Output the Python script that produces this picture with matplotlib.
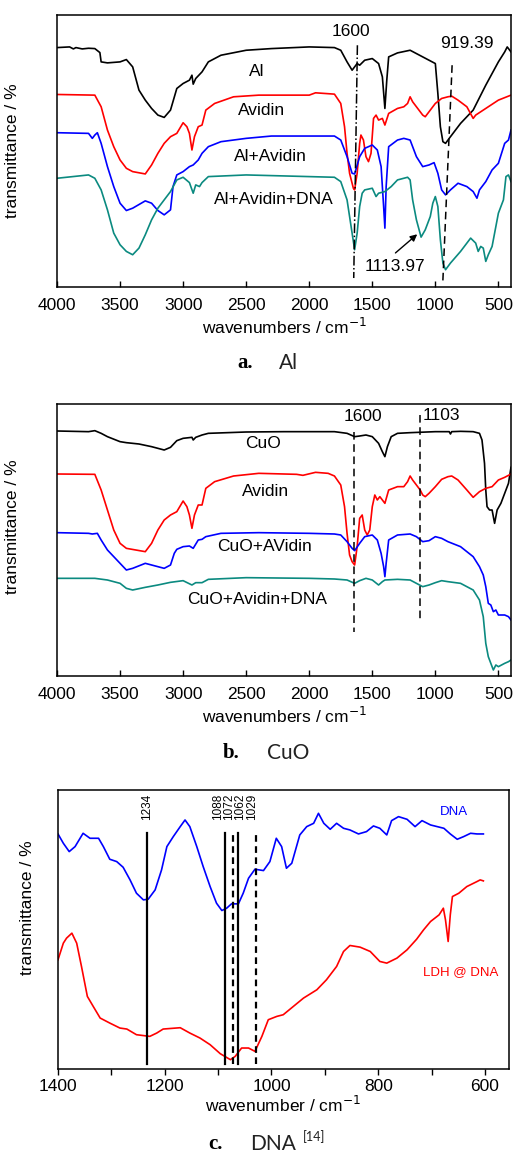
import matplotlib
matplotlib.use("Agg")
import matplotlib.pyplot as plt
import numpy as np

plt.rcParams["font.family"] = ["Liberation Sans", "DejaVu Sans"]
plt.rcParams["font.size"] = 12.5

W, H = 514, 1155
TEAL = "#0b8a80"

# ---------------- panel a: Al (wavenumber, arbitrary transmittance units) ----------------
a_al_wn = [4000, 3900, 3870, 3850, 3800, 3750, 3700, 3660, 3650, 3600, 3500, 3450, 3400, 3350, 3300,
           3250, 3200, 3150, 3100, 3050, 3000, 2950, 2930, 2920, 2900, 2850, 2800, 2700, 2500, 2300,
           2000, 1800, 1750, 1700, 1660, 1640, 1620, 1600, 1560, 1500, 1450, 1420, 1400, 1385, 1370,
           1300, 1200, 1100, 1050, 1000, 980, 960, 940, 919, 880, 800, 700, 600, 500, 450, 430, 400]
a_al_v = [720, 722, 716, 720, 716, 718, 717, 705, 677, 674, 677, 684, 662, 592, 562,
          537, 517, 510, 532, 597, 612, 622, 637, 610, 627, 647, 677, 697, 712, 717,
          722, 720, 712, 677, 652, 662, 672, 667, 682, 687, 672, 632, 537, 622, 692,
          704, 712, 692, 682, 672, 582, 482, 437, 432, 452, 492, 532, 607, 677, 707, 722, 707]

a_av_wn = [4000, 3700, 3650, 3600, 3550, 3500, 3450, 3400, 3300, 3250, 3200, 3150, 3100, 3050, 3000,
           2970, 2950, 2930, 2910, 2880, 2850, 2820, 2750, 2600, 2400, 2200, 2000, 1950, 1800, 1750,
           1720, 1700, 1680, 1650, 1640, 1620, 1600, 1590, 1570, 1550, 1530, 1510, 1490, 1470, 1450,
           1420, 1400, 1370, 1300, 1250, 1220, 1200, 1180, 1150, 1100, 1080, 1050, 1000, 950, 900,
           870, 820, 750, 700, 680, 600, 500, 400]
a_av_v = [579, 577, 542, 472, 422, 382, 357, 347, 340, 367, 402, 432, 452, 462, 494,
          482, 462, 412, 452, 482, 487, 532, 552, 572, 577, 577, 577, 584, 580, 552,
          482, 402, 342, 297, 292, 342, 432, 457, 442, 392, 377, 402, 507, 517, 502,
          507, 487, 522, 537, 542, 552, 572, 557, 542, 517, 512, 527, 552, 567, 572,
          574, 562, 542, 507, 517, 537, 562, 577]

a_alav_wn = [4000, 3750, 3720, 3700, 3680, 3650, 3600, 3550, 3500, 3450, 3400, 3300, 3250, 3200, 3150,
             3100, 3080, 3050, 3000, 2950, 2920, 2880, 2850, 2800, 2700, 2500, 2300, 2000, 1800, 1750,
             1700, 1660, 1640, 1600, 1560, 1500, 1460, 1430, 1410, 1400, 1390, 1370, 1300, 1250, 1200,
             1150, 1100, 1050, 1010, 980, 950, 919, 880, 820, 750, 700, 670, 650, 600, 550, 500,
             450, 420, 400]
a_alav_v = [464, 462, 447, 457, 464, 432, 362, 302, 252, 230, 237, 259, 252, 230, 217,
            232, 302, 337, 347, 362, 367, 382, 402, 422, 437, 447, 454, 454, 454, 442,
            392, 342, 340, 392, 417, 427, 412, 362, 242, 177, 302, 422, 442, 447, 442,
            392, 362, 367, 374, 342, 292, 277, 292, 312, 302, 287, 267, 292, 317, 352, 372,
            432, 442, 472]

a_dna_wn = [4000, 3750, 3700, 3650, 3600, 3550, 3500, 3450, 3400, 3350, 3300, 3250, 3200, 3100, 3050,
            3000, 2950, 2920, 2900, 2870, 2850, 2800, 2500, 2300, 2000, 1800, 1750, 1700, 1660, 1640,
            1620, 1600, 1580, 1560, 1500, 1470, 1450, 1400, 1350, 1300, 1250, 1220, 1200, 1180, 1150,
            1113, 1080, 1040, 1020, 1000, 980, 960, 940, 919, 880, 800, 720, 680, 660, 640, 620,
            600, 580, 550, 500, 460, 440, 420, 400]
a_dna_v = [327, 337, 327, 292, 232, 162, 127, 107, 97, 117, 157, 202, 237, 287, 322,
           330, 314, 282, 307, 302, 314, 332, 337, 335, 332, 330, 317, 262, 162, 112,
           162, 242, 282, 292, 297, 272, 282, 287, 302, 322, 327, 330, 322, 262, 202,
           150, 172, 212, 252, 272, 242, 142, 72, 52, 72, 107, 147, 132, 107, 122, 117,
           77, 97, 122, 222, 262, 332, 337, 317]

a_names = ["Al", "Avidin", "Al+Avidin", "Al+Avidin+DNA"]

# ---------------- panel b: CuO ----------------
b_cuo_wn = [4000, 3750, 3700, 3650, 3600, 3500, 3450, 3350, 3250, 3150, 3100, 3050, 3000, 2930, 2920,
            2900, 2850, 2800, 2500, 2200, 2000, 1800, 1700, 1640, 1600, 1550, 1500, 1450, 1420, 1400,
            1380, 1350, 1300, 1200, 1000, 890, 880, 870, 800, 700, 650, 630, 610, 600, 590, 570,
            550, 530, 510, 480, 450, 420, 400]
b_cuo_v = [735, 733, 736, 728, 718, 703, 700, 696, 688, 678, 686, 706, 713, 716, 708,
           716, 723, 728, 732, 733, 733, 733, 728, 718, 720, 723, 718, 698, 673, 658,
           688, 718, 728, 730, 733, 733, 726, 733, 734, 733, 728, 708, 638, 558, 508, 498,
           498, 458, 498, 518, 548, 578, 626]

b_av_wn = [4000, 3700, 3650, 3600, 3550, 3500, 3450, 3300, 3250, 3200, 3150, 3100, 3050, 3000, 2970,
           2950, 2930, 2910, 2880, 2850, 2820, 2750, 2600, 2400, 2100, 2050, 1950, 1850, 1800, 1750,
           1720, 1700, 1680, 1660, 1640, 1620, 1600, 1580, 1560, 1540, 1520, 1500, 1480, 1460, 1440,
           1400, 1370, 1300, 1250, 1220, 1200, 1180, 1150, 1120, 1100, 1080, 1050, 1000, 950, 900,
           870, 820, 750, 700, 650, 600, 550, 500, 450, 400]
b_av_v = [606, 605, 558, 498, 438, 398, 383, 373, 398, 438, 468, 483, 493, 525, 508,
          483, 443, 483, 513, 513, 563, 583, 600, 608, 605, 602, 611, 608, 600, 573,
          508, 428, 363, 343, 333, 388, 473, 483, 438, 423, 438, 508, 543, 528, 538,
          518, 558, 568, 568, 583, 600, 588, 573, 558, 543, 538, 548, 568, 590, 598,
          600, 588, 558, 536, 553, 563, 568, 588, 596, 606]

b_cuoav_wn = [4000, 3750, 3720, 3680, 3650, 3600, 3550, 3500, 3450, 3400, 3300, 3250, 3200, 3150, 3100,
              3070, 3050, 3000, 2950, 2920, 2880, 2850, 2820, 2700, 2400, 2000, 1800, 1750, 1700, 1660,
              1640, 1600, 1560, 1500, 1460, 1430, 1410, 1400, 1390, 1370, 1300, 1200, 1150, 1100, 1050,
              1000, 950, 900, 800, 700, 650, 620, 600, 580, 560, 540, 520, 500, 450, 420, 400]
b_cuoav_v = [430, 428, 426, 428, 408, 378, 358, 338, 318, 323, 338, 333, 328, 323, 333,
             368, 380, 388, 390, 383, 408, 410, 418, 428, 430, 428, 426, 423, 403, 383,
             376, 398, 418, 423, 408, 368, 328, 298, 338, 408, 423, 426, 418, 403, 406,
             418, 413, 403, 388, 358, 328, 303, 268, 218, 213, 193, 198, 183, 183, 178, 168]

b_dna_wn = [4000, 3700, 3600, 3500, 3450, 3400, 3300, 3200, 3100, 3000, 2930, 2900, 2850, 2800, 2500,
            2000, 1800, 1700, 1640, 1600, 1550, 1500, 1450, 1420, 1400, 1300, 1200, 1150, 1100, 1050,
            1000, 950, 900, 800, 700, 650, 620, 600, 580, 560, 540, 520, 500, 450, 420, 400]
b_dna_v = [293, 293, 288, 278, 263, 258, 266, 273, 281, 286, 273, 280, 280, 290, 295,
           293, 291, 288, 278, 286, 293, 288, 273, 283, 288, 290, 288, 278, 268, 273,
           280, 286, 283, 278, 258, 228, 178, 98, 58, 38, 18, 33, 28, 38, 43, 48]

b_names = ["CuO", "Avidin", "CuO+AVidin", "CuO+Avidin+DNA"]

# ---------------- panel c: DNA ----------------
c_dna_wn = [1400, 1390, 1379, 1368, 1353, 1340, 1324, 1315, 1303, 1290, 1278, 1265, 1253, 1240, 1231,
            1218, 1206, 1196, 1184, 1171, 1162, 1153, 1140, 1128, 1115, 1103, 1093, 1084, 1075, 1062,
            1053, 1043, 1031, 1015, 1003, 991, 981, 972, 962, 947, 934, 921, 912, 902, 890,
            878, 865, 853, 837, 822, 809, 797, 784, 775, 762, 746, 731, 718, 702, 677,
            665, 652, 640, 627, 615, 603]
c_dna_v = [706, 678, 653, 668, 708, 693, 693, 668, 630, 623, 606, 568, 528, 508, 510,
           538, 598, 668, 698, 728, 748, 728, 668, 608, 548, 498, 476, 483, 496, 496,
           528, 573, 600, 596, 623, 693, 668, 603, 618, 703, 728, 738, 768, 738, 720,
           738, 723, 718, 706, 713, 730, 723, 703, 746, 758, 750, 728, 746, 733, 723,
           706, 690, 698, 708, 706, 706]

c_ldh_wn = [1400, 1390, 1384, 1374, 1365, 1356, 1345, 1334, 1321, 1303, 1284, 1271, 1253, 1228, 1215,
            1203, 1171, 1153, 1134, 1115, 1096, 1077, 1068, 1056, 1043, 1031, 1018, 1006, 990, 978,
            959, 940, 915, 897, 878, 865, 853, 834, 815, 797, 784, 765, 746, 728, 715,
            702, 686, 678, 674, 669, 665, 661, 649, 634, 615, 609, 603]
c_ldh_v = [328, 378, 393, 408, 378, 308, 218, 188, 153, 138, 123, 120, 103, 98, 108,
           120, 124, 108, 93, 73, 46, 28, 38, 63, 63, 53, 98, 148, 158, 163,
           188, 213, 238, 268, 308, 353, 371, 366, 353, 323, 318, 333, 358, 390, 418,
           443, 463, 483, 448, 383, 463, 518, 528, 548, 563, 568, 565]

c_peaks = [1234, 1088, 1072, 1062, 1029]
c_peak_styles = ["-", "-", "--", "-", "--"]
c_peak_label_x = [1234, 1101, 1080, 1058, 1037]


def px_axes(fig, left, top, right, bottom):
    return fig.add_axes([left / W, 1 - bottom / H, (right - left) / W, (bottom - top) / H])


def style_ftir(ax, ylim):
    ax.set_xlim(4000, 400)
    ax.set_ylim(0, ylim)
    ax.set_xticks([4000, 3500, 3000, 2500, 2000, 1500, 1000, 500])
    ax.set_yticks([])
    ax.tick_params(axis="x", direction="in", length=4, width=1, pad=8, labelsize=12.5)
    for s in ax.spines.values():
        s.set_linewidth(1.1)
    ax.set_xlabel("wavenumbers / cm$^{-1}$", labelpad=3)
    ax.set_ylabel("transmittance / %")


fig = plt.figure(figsize=(W / 100, H / 100), dpi=100)

# panel a
ax = px_axes(fig, 57, 15, 511, 287)
for wn, v, c in zip([a_al_wn, a_av_wn, a_alav_wn, a_dna_wn], [a_al_v, a_av_v, a_alav_v, a_dna_v],
                    ["black", "red", "blue", TEAL]):
    ax.plot(wn, v, color=c, lw=1.2)
style_ftir(ax, 818)
ax.yaxis.set_label_coords(-0.081, 0.5)
ax.plot([1618, 1647], [727, 27], color="black", lw=1.1, ls="-.")
ax.plot([867, 941], [667, 12], color="black", lw=1.1, ls=(0, (5, 3)))
ax.annotate("", xy=(1127, 164), xytext=(1333, 97),
            arrowprops=dict(arrowstyle="-|>", color="black", lw=1.0, mutation_scale=10))
ax.text(1671, 767, "1600", ha="center", va="center")
ax.text(751, 732, "919.39", ha="center", va="center")
ax.text(1320, 62, "1113.97", ha="center", va="center")
for name, x, y in zip(a_names, [2417, 2377, 2305, 2279], [647, 530, 392, 264]):
    ax.text(x, y, name, ha="center", va="center")

# panel b
ax = px_axes(fig, 57, 404, 511, 676)
for wn, v, c in zip([b_cuo_wn, b_av_wn, b_cuoav_wn, b_dna_wn], [b_cuo_v, b_av_v, b_cuoav_v, b_dna_v],
                    ["black", "red", "blue", TEAL]):
    ax.plot(wn, v, color=c, lw=1.2)
style_ftir(ax, 816)
ax.yaxis.set_label_coords(-0.081, 0.55)
ax.plot([1642, 1642], [733, 133], color="black", lw=1.1, ls=(0, (5, 3)))
ax.plot([1121, 1121], [783, 168], color="black", lw=1.1, ls=(0, (5, 3)))
ax.text(1571, 778, "1600", ha="center", va="center")
ax.text(949, 780, "1103", ha="center", va="center")
for name, x, y in zip(b_names, [2364, 2350, 2356, 2417], [698, 553, 388, 230]):
    ax.text(x, y, name, ha="center", va="center")

# panel c
ax = px_axes(fig, 58, 790, 509, 1069)
ax.plot(c_dna_wn, c_dna_v, color="blue", lw=1.2)
ax.plot(c_ldh_wn, c_ldh_v, color="red", lw=1.2)
for p, ls, lx in zip(c_peaks, c_peak_styles, c_peak_label_x):
    ax.plot([p, p], [16, 708], color="black", lw=1.6, ls=ls if ls == "-" else (0, (3, 2)))
    ax.text(lx, 747, str(p), rotation=90, ha="center", va="bottom", fontsize=8.5)
ax.text(659, 771, "DNA", color="blue", ha="center", va="center", fontsize=9.5)
ax.text(645, 291, "LDH @ DNA", color="red", ha="center", va="center", fontsize=9.5)
ax.set_xlim(1400, 555)
ax.set_ylim(0, 838)
ax.set_xticks([1400, 1200, 1000, 800, 600])
ax.set_xticks([1300, 1100, 900, 700], minor=True)
ax.set_yticks([])
ax.tick_params(axis="x", which="both", direction="out", length=4, width=1, pad=3, labelsize=12.5)
for s in ax.spines.values():
    s.set_linewidth(1.1)
ax.set_xlabel("wavenumber / cm$^{-1}$", labelpad=1)
ax.set_ylabel("transmittance / %")
ax.yaxis.set_label_coords(-0.051, 0.577)

# captions
cap_kw = dict(family=["Liberation Serif", "DejaVu Serif"], fontsize=15)
name_kw = dict(family=["Lato", "DejaVu Sans"], fontsize=15, color="#222222")
fig.text(237 / W, 1 - 363 / H, "a.", fontweight="bold", va="center", **cap_kw)
fig.text(279 / W, 1 - 363 / H, "Al", va="center", **name_kw)
fig.text(223 / W, 1 - 753 / H, "b.", fontweight="bold", va="center", **cap_kw)
fig.text(267 / W, 1 - 753 / H, "CuO", va="center", **name_kw)
fig.text(208 / W, 1 - 1144 / H, "c.", fontweight="bold", va="center", **cap_kw)
fig.text(250 / W, 1 - 1144 / H, "DNA", va="center", **name_kw)
fig.text(303 / W, 1 - 1137 / H, "[14]", va="center", family=["Lato", "DejaVu Sans"],
         fontsize=9, color="#222222")

fig.savefig("out.png", dpi=100)
